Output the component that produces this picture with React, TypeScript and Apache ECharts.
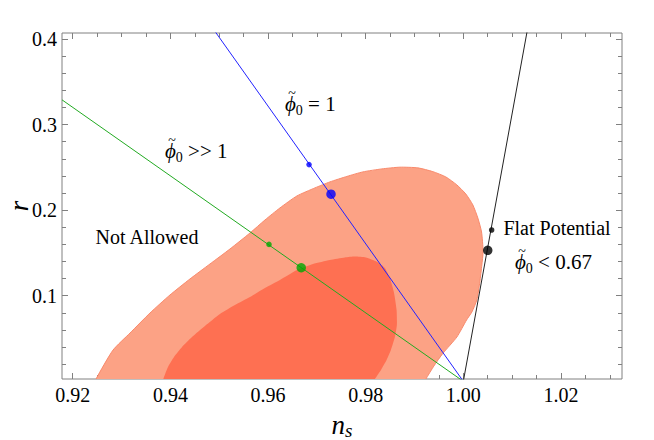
import React, { useEffect, useRef } from "react";
import * as echarts from "echarts";

// Axis ranges
const xMin = 0.9178;
const xMax = 1.0325;
const yMin = 0.0027;
const yMax = 0.407;

// Tick values and labels
const xMajorTicks = [0.92, 0.94, 0.96, 0.98, 1.0, 1.02];
const xMinorTicks = [0.925, 0.93, 0.935, 0.945, 0.95, 0.955, 0.965, 0.97, 0.975, 0.985, 0.99, 0.995, 1.005, 1.01, 1.015, 1.025, 1.03];
const yMajorTicks = [0.1, 0.2, 0.3, 0.4];
const yMinorTicks = [0.02, 0.04, 0.06, 0.08, 0.12, 0.14, 0.16, 0.18, 0.22, 0.24, 0.26, 0.28, 0.32, 0.34, 0.36, 0.38];

// Confidence contours [n_s, r]
const outerContour: number[][] = [
  [0.9605, -0.04], [0.9238, -0.012],
  [0.92477, 0.0026], [0.92825, 0.0365], [0.93173, 0.0564], [0.93582, 0.0798], [0.93992, 0.1009],
  [0.94401, 0.1196], [0.94811, 0.1371], [0.9522, 0.1546], [0.9563, 0.1733], [0.95937, 0.1885],
  [0.96244, 0.2026], [0.96592, 0.2166], [0.96961, 0.226], [0.97267, 0.233], [0.97615, 0.2394],
  [0.97943, 0.2447], [0.98332, 0.2482], [0.987, 0.2502], [0.99068, 0.2494], [0.99376, 0.245],
  [0.99642, 0.2388], [0.99867, 0.2295], [1.00051, 0.2189], [1.00195, 0.2061], [1.00297, 0.1909],
  [1.00373, 0.1745], [1.00405, 0.1515], [1.00379, 0.1359], [1.00338, 0.116], [1.00276, 0.095],
  [1.00174, 0.0809], [1.00066, 0.0716], [0.99867, 0.0517], [0.9958, 0.0326], [0.99396, 0.0178],
  [0.99232, 0.0026], [0.9905, -0.015],
];
const innerContour: number[][] = [
  [0.96, -0.035], [0.9376, -0.012],
  [0.93855, 0.0026], [0.93951, 0.0166], [0.94074, 0.0283], [0.94238, 0.04], [0.94442, 0.0517],
  [0.94708, 0.0646], [0.95015, 0.0786], [0.95322, 0.0891], [0.95629, 0.0985], [0.95937, 0.109],
  [0.96244, 0.1184], [0.96592, 0.1301], [0.9692, 0.1371], [0.97267, 0.1418], [0.97574, 0.1447],
  [0.97779, 0.1458], [0.98004, 0.1447], [0.98229, 0.1398], [0.98393, 0.1325], [0.98495, 0.1207],
  [0.98577, 0.1043], [0.98633, 0.0833], [0.98639, 0.0657], [0.98598, 0.0517], [0.98516, 0.0365],
  [0.98428, 0.0248], [0.98311, 0.013], [0.98188, 0.0026], [0.9805, -0.012],
];

// Model lines
const greenLine = [[0.9178, 0.3289], [1.0, 0]];
const blueLine = [[0.949, 0.41], [1.0, 0]];
const blackLine = [[1.0, 0], [1.0131, 0.41]];

// Model points
const greenSmall = [[0.9602, 0.16]];
const greenBig = [[0.9668, 0.1327]];
const blueSmall = [[0.9684, 0.2532]];
const blueBig = [[0.9729, 0.2186]];
const blackSmall = [[1.0058, 0.1768]];
const blackBig = [[1.005, 0.1531]];

const SERIF = "Liberation Serif";
const FRAME = "#808080";
const PHI = "\u03D5";

const phiRich = {
  p: { fontFamily: SERIF, fontStyle: "italic", fontSize: 21, lineHeight: 24, fill: "#000" },
  s: { fontFamily: SERIF, fontSize: 14, lineHeight: 14, padding: [12, 0, 0, 0], fill: "#000" },
  t: { fontFamily: SERIF, fontSize: 21, lineHeight: 24, fill: "#000" },
};

function makeAxis(pos: string, values: number[], len: number, showLabels: boolean, isX: boolean) {
  return {
    type: "value",
    position: pos,
    min: isX ? xMin : yMin,
    max: isX ? xMax : yMax,
    axisLine: { show: false },
    splitLine: { show: false },
    axisTick: {
      show: true,
      inside: true,
      length: len,
      customValues: values,
      lineStyle: { color: FRAME, width: 1 },
    },
    axisLabel: showLabels
      ? {
          show: true,
          customValues: values,
          color: "#000",
          fontFamily: SERIF,
          fontSize: 20,
          margin: isX ? 6 : 5,
          formatter: (v: number) => (isX ? v.toFixed(2) : v.toFixed(1)),
        }
      : { show: false },
  };
}

function polygonItem(points: number[][], fill: string, stroke: string) {
  return (params: any, api: any) => ({
    type: "polygon",
    shape: { points: points.map((p) => api.coord(p)), smooth: 0.2 },
    style: { fill, stroke, lineWidth: stroke === "none" ? 0 : 1 },
  });
}

function phiLabel(x: number, y: number, rest: string) {
  return [
    {
      type: "text", x, y, z: 10,
      style: { text: "{p|" + PHI + "}{s|0}{t|" + rest + "}", rich: phiRich, align: "left", verticalAlign: "middle" },
    },
    {
      type: "text", x: x + 7, y: y - 11, z: 10,
      style: { text: "~", fontFamily: SERIF, fontSize: 14, fill: "#000", align: "center", verticalAlign: "middle" },
    },
  ];
}

export default function App() {
  const ref = useRef<HTMLDivElement>(null);
  useEffect(() => {
    document.body.style.margin = "0";
    const chart = echarts.init(ref.current!, null, { renderer: "svg" });
    const xAxes: any[] = [
      makeAxis("bottom", xMajorTicks, 6, true, true),
      makeAxis("bottom", xMinorTicks, 4, false, true),
      makeAxis("top", xMajorTicks, 6, false, true),
      makeAxis("top", xMinorTicks, 4, false, true),
    ];
    xAxes[0].name = "{n|n}{s|s}";
    xAxes[0].nameLocation = "middle";
    xAxes[0].nameGap = 31;
    xAxes[0].nameTextStyle = {
      rich: {
        n: { fontFamily: SERIF, fontStyle: "italic", fontSize: 27, lineHeight: 30, color: "#000" },
        s: { fontFamily: SERIF, fontStyle: "italic", fontSize: 19, lineHeight: 19, padding: [11, 0, 0, 0], color: "#000" },
      },
    };
    const yAxes: any[] = [
      makeAxis("left", yMajorTicks, 6, true, false),
      makeAxis("left", yMinorTicks, 4, false, false),
      makeAxis("right", yMajorTicks, 6, false, false),
      makeAxis("right", yMinorTicks, 4, false, false),
    ];
    yAxes[0].name = "r";
    yAxes[0].nameLocation = "middle";
    yAxes[0].nameRotate = 90;
    yAxes[0].nameGap = 30;
    yAxes[0].nameMoveOverlap = false;
    yAxes[0].nameTextStyle = { fontFamily: SERIF, fontStyle: "italic", fontSize: 27, color: "#000" };

    const dot = (data: number[][], color: string, size: number) => ({
      type: "scatter",
      data,
      symbol: "circle",
      symbolSize: size,
      itemStyle: { color },
      z: 5,
      silent: true,
    });
    const line = (data: number[][], color: string) => ({
      type: "line",
      data,
      showSymbol: false,
      symbol: "none",
      lineStyle: { color, width: 1 },
      clip: true,
      z: 4,
      silent: true,
    });

    chart.setOption({
      animation: false,
      grid: {
        left: 62,
        right: 32,
        top: 33,
        bottom: 61,
        show: true,
        borderColor: FRAME,
        borderWidth: 1,
        backgroundColor: "transparent",
        containLabel: false,
        outerBoundsMode: "none",
      },
      xAxis: xAxes,
      yAxis: yAxes,
      series: [
        { type: "custom", data: [0], renderItem: polygonItem(outerContour, "#FCA285", "#F9896B"), clip: true, z: 1, silent: true },
        { type: "custom", data: [0], renderItem: polygonItem(innerContour, "#FE7052", "none"), clip: true, z: 2, silent: true },
        line(greenLine, "#22aa22"),
        line(blueLine, "#2222ff"),
        line(blackLine, "#222222"),
        dot(greenSmall, "#00a800", 5.5),
        dot(greenBig, "#00a800", 9.5),
        dot(blueSmall, "#0000ff", 5.5),
        dot(blueBig, "#0000ff", 9.5),
        dot(blackSmall, "#000000", 5.5),
        dot(blackBig, "#000000", 9.5),
      ],
      graphic: [
        ...phiLabel(285, 104, " = 1"),
        ...phiLabel(165, 151, " >> 1"),
        ...phiLabel(515, 262, " < 0.67"),
        {
          type: "text", x: 147, y: 237, z: 10,
          style: { text: "Not Allowed", fontFamily: SERIF, fontSize: 20, fill: "#000", align: "center", verticalAlign: "middle" },
        },
        {
          type: "text", x: 557, y: 228, z: 10,
          style: { text: "Flat Potential", fontFamily: SERIF, fontSize: 20, fill: "#000", align: "center", verticalAlign: "middle" },
        },
      ],
    });
    return () => chart.dispose();
  }, []);
  return <div ref={ref} style={{ width: 654, height: 440 }} />;
}
